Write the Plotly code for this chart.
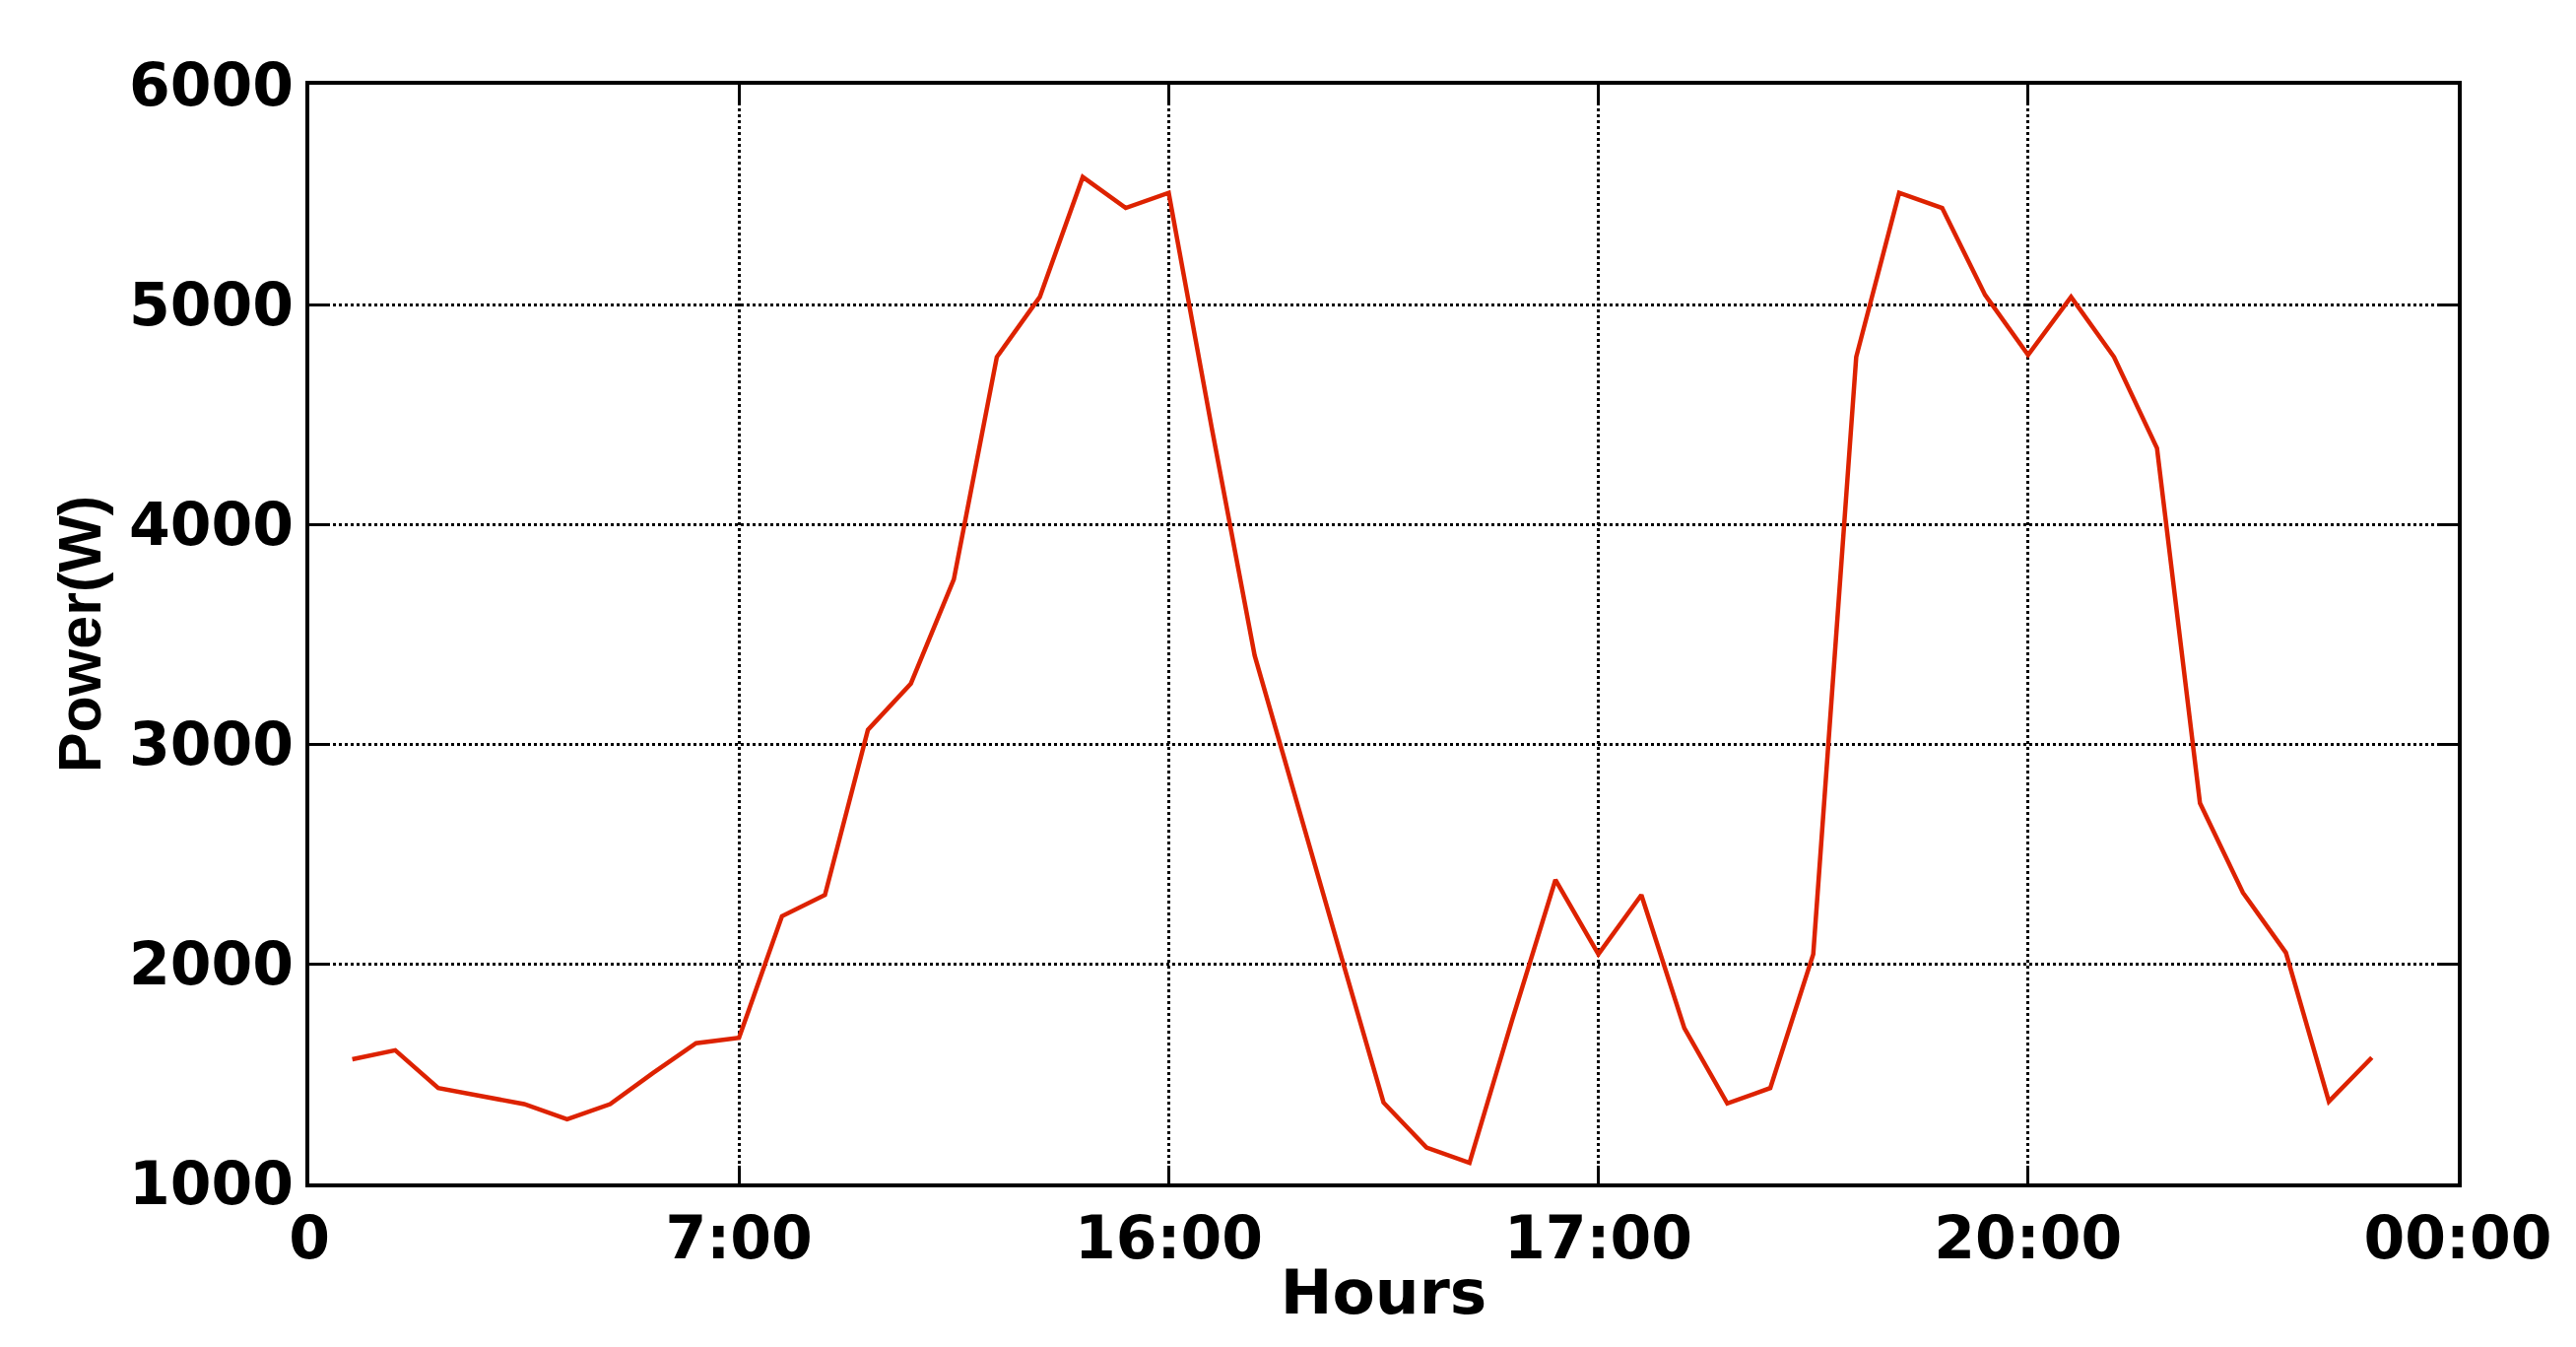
import plotly.graph_objects as go

# Sample index (one point per interval) and measured power
hours = list(range(1, 49))
power = [
    1565, 1606, 1434, 1399, 1361, 1292, 1361, 1503, 1638, 1663,
    2216, 2313, 3064, 3275, 3749, 4761, 5034, 5580, 5439, 5508,
    4440, 3403, 2718, 2043, 1368, 1163, 1094, 1748, 2382, 2043,
    2313, 1707, 1364, 1434, 2043, 4761, 5508, 5439, 5043, 4770,
    5034, 4761, 4346, 2731, 2323, 2050, 1373, 1573,
]

tick_pos = [0, 10, 20, 30, 40, 50]
tick_text = ["0", "7:00", "16:00", "17:00", "20:00", "00:00"]
y_ticks = [1000, 2000, 3000, 4000, 5000, 6000]

fig = go.Figure()
fig.add_trace(
    go.Scatter(
        x=hours,
        y=power,
        mode="lines",
        line=dict(color="#DD2200", width=4.5),
        showlegend=False,
    )
)

axis_font = dict(family="DejaVu Sans", size=60, color="black", weight="bold")

fig.update_layout(
    width=2615,
    height=1367,
    paper_bgcolor="white",
    plot_bgcolor="white",
    margin=dict(l=306, r=128, t=78, b=174),
    xaxis=dict(
        range=[0, 50],
        tickmode="array",
        tickvals=tick_pos,
        ticktext=tick_text,
        tickfont=axis_font,
        showline=True,
        linecolor="black",
        linewidth=4,
        mirror="ticks",
        ticks="inside",
        ticklen=18,
        tickwidth=3,
        tickcolor="black",
        showgrid=True,
        gridcolor="black",
        gridwidth=2.5,
        griddash="dot",
        zeroline=False,
        title=dict(
            text="Hours",
            font=dict(family="DejaVu Sans", size=63, color="black", weight="bold"),
            standoff=0,
        ),
    ),
    yaxis=dict(
        range=[1000, 6000],
        tickmode="array",
        tickvals=y_ticks,
        tickfont=axis_font,
        showline=True,
        linecolor="black",
        linewidth=4,
        mirror="ticks",
        ticks="inside",
        ticklen=18,
        tickwidth=3,
        tickcolor="black",
        showgrid=True,
        gridcolor="black",
        gridwidth=2.5,
        griddash="dot",
        zeroline=False,
        title=dict(
            text="Power(W)",
            font=dict(family="Liberation Sans", size=61, color="black", weight="bold"),
            standoff=10,
        ),
    ),
)

fig.write_html("out.html")
